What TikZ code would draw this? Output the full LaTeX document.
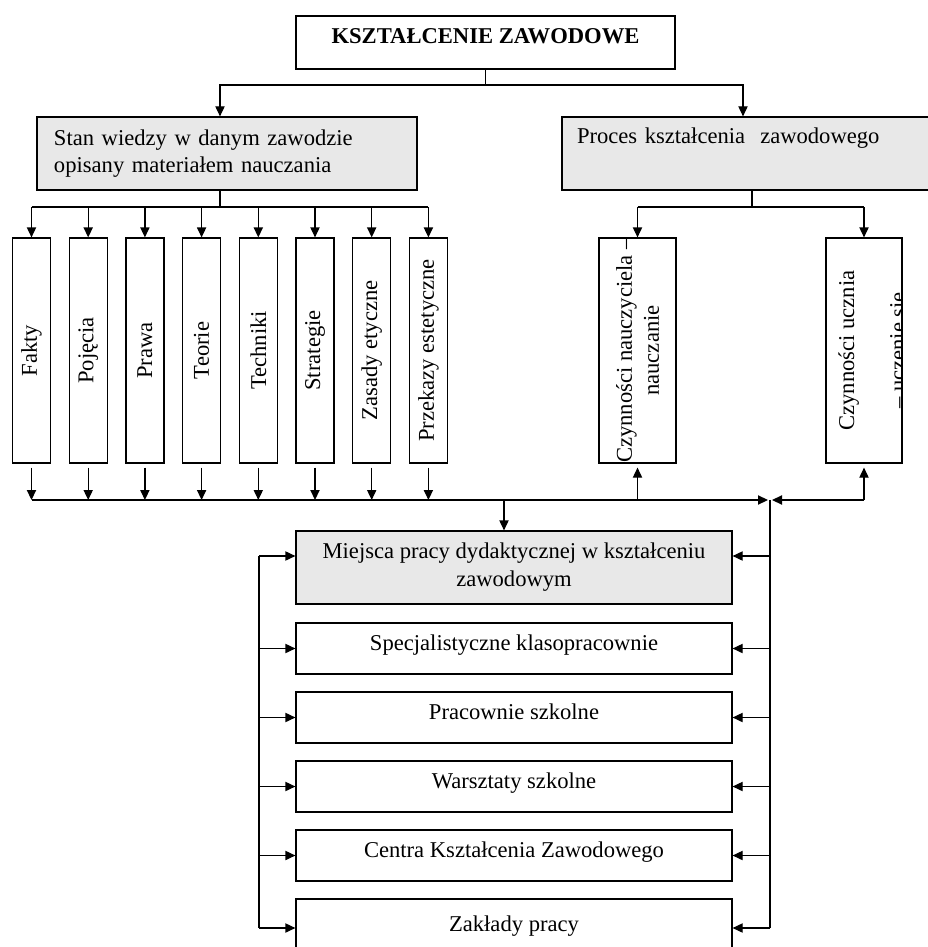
\documentclass[tikz,border=0pt]{standalone}
\usepackage{fontspec}
\setmainfont{Liberation Serif}
\usetikzlibrary{arrows.meta}
\definecolor{szary}{HTML}{E8E8E8}

\begin{document}
\begin{tikzpicture}[x=0.5pt, y=-0.5pt, line width=0.6pt,
    font=\fontsize{11.3}{13.5}\selectfont,
    >={Triangle[length=5pt, width=4.6pt]},
    ramka/.style={draw, inner sep=0pt},
    szara/.style={ramka, fill=szary},
    pion/.style={ramka, rotate=90, minimum width=112.5pt, minimum height=19pt},
    dolna/.style={ramka, minimum width=218pt, minimum height=25.5pt,
      text height=7.5pt, text depth=5.5pt}]
  \useasboundingbox (0,0) rectangle (927,947);
  % gora
  \node[ramka, minimum width=189.5pt, minimum height=26.5pt, text height=7.5pt,
    text depth=6pt, font=\fontsize{11.3}{13.5}\selectfont\bfseries] (glowny) at (485.5,42.5) {KSZTAŁCENIE ZAWODOWE};
  \node[szara, minimum height=36.5pt, text width=173pt, inner xsep=8.5pt, align=left]
    (stan) at (227,153.5) {Stan wiedzy w danym zawodzie\\ opisany materiałem nauczania};
  \node[szara, minimum height=36.5pt, text width=169pt, inner xsep=7.5pt, align=left]
    (proces) at (746,153.5) {Proces kształcenia~ zawodowego\\ \strut};
  % tresci
  \foreach \nazwa [count=\i from 0] in {Fakty,Pojęcia,Prawa,Teorie,Techniki,Strategie,Zasady etyczne,Przekazy estetyczne}
    \node[pion] (p\i) at (31.5+56.7*\i,350.5) {\nazwa};
  \node[pion, minimum height=38.5pt, align=center] (naucz) at (637.5,350.5) {Czynności nauczyciela –\\ nauczanie};
  \node[pion, minimum height=38pt] (uczen) at (864,350.5) {};
  \begin{scope}
    \clip (uczen.south west) rectangle (uczen.north east);
    \node[rotate=90, align=center] (uczentekst) at (874,350.5) {Czynności ucznia\\[12pt]– uczenie się};
  \end{scope}
  % miejsca pracy
  \node[szara, minimum width=218pt, minimum height=36.5pt, align=center,
    font=\fontsize{11.3}{14}\selectfont] (miejsca) at (514,567.5) {Miejsca pracy dydaktycznej w kształceniu\\ zawodowym};
  \foreach \nazwa [count=\i from 0] in {Specjalistyczne klasopracownie,Pracownie szkolne,Warsztaty szkolne,Centra Kształcenia Zawodowego}
    \node[dolna] (d\i) at (514,648.5+69*\i) {\nazwa};
  \node[dolna, minimum height=40pt, text depth=15.5pt] (d4) at (514,939) {Zakłady pracy};

  \coordinate (rozg) at (485.5,85);
  \coordinate (szynaL) at (220,207);
  \coordinate (szynaP) at (752,207);
  \coordinate (dol) at (770,500);
  \coordinate (zejscie) at (504,500);
  \coordinate (lewa) at (259,556);
  \coordinate (mw) at ([yshift=5.75pt]miejsca.west);
  \coordinate (me) at ([yshift=5.75pt]miejsca.east);
  \coordinate (zw) at ([yshift=5.5pt]d4.west);
  \coordinate (ze) at ([yshift=5.5pt]d4.east);

  \begin{scope}[->]
    \draw[-] (glowny) -- (rozg);
    \draw (rozg) -| ([xshift=-3.5pt]stan.north);
    \draw (rozg) -| ([xshift=-1.5pt]proces.north);
    \draw[-] ([xshift=-3.5pt]stan.south) -- (szynaL);
    \draw[-] (p0 |- szynaL) -- (p7 |- szynaL);
    \draw[-] ([xshift=3pt]proces.south) -- (szynaP);
    \draw[-] (naucz |- szynaP) -- (uczen |- szynaP);
    \foreach \i in {0,...,7} {
      \draw (p\i |- szynaL) -- (p\i);
      \draw[shorten <=2pt] (p\i) -- (p\i |- dol);
    }
    \draw (naucz |- szynaP) -- (naucz);
    \draw (uczen |- szynaP) -- (uczen);
    \draw[shorten >=2pt] (naucz |- dol) -- (naucz);
    \draw[shorten >=2pt] (uczen |- dol) -- (uczen);
    \draw (p0 |- dol) -- ([xshift=-1pt]dol);
    \draw (uczen |- dol) -- ([xshift=1pt]dol);
    \draw (zejscie) -- (zejscie |- miejsca.north);
    \draw[-] (dol) -- (dol |- ze);
    \draw[-] (lewa) -- (lewa |- zw);
    \draw (lewa |- mw) -- (mw);
    \draw (dol |- me) -- (me);
    \foreach \i in {0,...,3} {
      \draw (lewa |- d\i.west) -- (d\i.west);
      \draw (dol |- d\i.east) -- (d\i.east);
    }
    \draw (lewa |- zw) -- (zw);
    \draw (dol |- ze) -- (ze);
  \end{scope}
\end{tikzpicture}
\end{document}
